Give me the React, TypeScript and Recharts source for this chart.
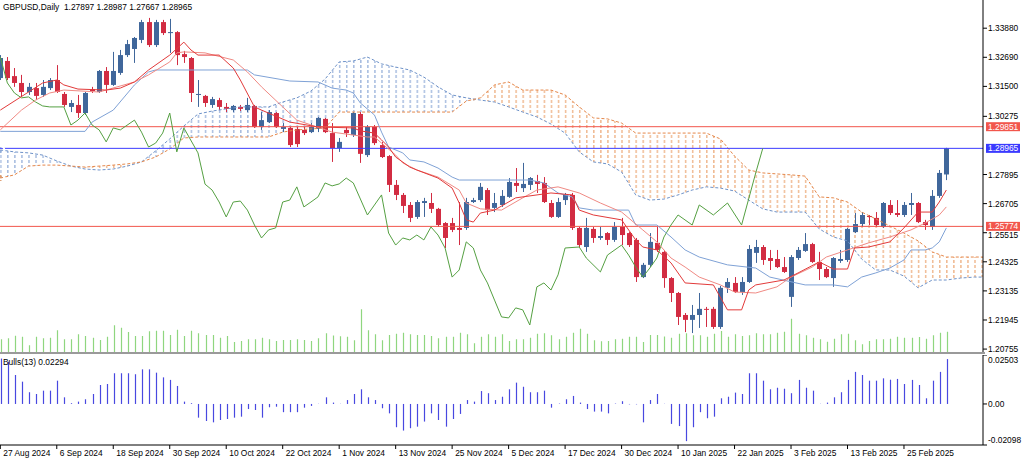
import React from 'react'
import { ComposedChart, Bar, Line, Area, XAxis, YAxis, ReferenceLine } from 'recharts'

// date labels, one every 8 bars starting at bar 0
const dateTicks = [
  '27 Aug 2024', '6 Sep 2024', '18 Sep 2024', '30 Sep 2024', '10 Oct 2024', '22 Oct 2024',
  '1 Nov 2024', '13 Nov 2024', '25 Nov 2024', '5 Dec 2024', '17 Dec 2024', '30 Dec 2024',
  '10 Jan 2025', '22 Jan 2025', '3 Feb 2025', '13 Feb 2025', '25 Feb 2025',
]

const opens = [
  1.3184, 1.3254, 1.3192, 1.3164, 1.3127, 1.3143, 1.3115, 1.3143, 1.3176, 1.3119,
  1.3066, 1.3074, 1.3041, 1.3139, 1.3127, 1.3213, 1.3156, 1.3205, 1.3278, 1.3303,
  1.3340, 1.3413, 1.3319, 1.3413, 1.3368, 1.3372, 1.3282, 1.3266, 1.3115, 1.3111,
  1.3074, 1.3094, 1.3066, 1.3053, 1.3066, 1.3053, 1.3070, 1.2984, 1.3004, 1.3041,
  1.2976, 1.2980, 1.2976, 1.2972, 1.2963, 1.2976, 1.3017, 1.2959, 1.2898, 1.2972,
  1.2951, 1.3037, 1.2869, 1.2984, 1.2910, 1.2865, 1.2747, 1.2706, 1.2665, 1.2616,
  1.2673, 1.2673, 1.2649, 1.2591, 1.2591, 1.2571, 1.2571, 1.2677, 1.2685, 1.2726,
  1.2653, 1.2665, 1.2698, 1.2755, 1.2734, 1.2747, 1.2763, 1.2755, 1.2673, 1.2616,
  1.2685, 1.2706, 1.2571, 1.2493, 1.2567, 1.2530, 1.2550, 1.2522, 1.2575, 1.2550,
  1.2522, 1.2370, 1.2420, 1.2510, 1.2473, 1.2366, 1.2305, 1.2215, 1.2195, 1.2215,
  1.2240, 1.2240, 1.2166, 1.2326, 1.2346, 1.2309, 1.2350, 1.2469, 1.2493, 1.2448,
  1.2444, 1.2411, 1.2289, 1.2448, 1.2477, 1.2505, 1.2432, 1.2403, 1.2366, 1.2436,
  1.2440, 1.2554, 1.2587, 1.2620, 1.2612, 1.2575, 1.2665, 1.2632, 1.2624, 1.2665,
  1.2673, 1.2595, 1.2575, 1.2702, 1.27897,
]
const highs = [
  1.3278, 1.3270, 1.3225, 1.3197, 1.3164, 1.3164, 1.3176, 1.3184, 1.3237, 1.3127,
  1.3094, 1.3115, 1.3127, 1.3148, 1.3217, 1.3229, 1.3291, 1.3299, 1.3340, 1.3352,
  1.3422, 1.3430, 1.3422, 1.3422, 1.3426, 1.3376, 1.3295, 1.3270, 1.3176, 1.3115,
  1.3107, 1.3103, 1.3082, 1.3074, 1.3074, 1.3103, 1.3074, 1.3045, 1.3053, 1.3045,
  1.3000, 1.2984, 1.2984, 1.2984, 1.3000, 1.3025, 1.3021, 1.3000, 1.2939, 1.2984,
  1.3045, 1.3045, 1.2992, 1.2992, 1.2923, 1.2869, 1.2767, 1.2714, 1.2677, 1.2685,
  1.2694, 1.2714, 1.2653, 1.2595, 1.2612, 1.2677, 1.2694, 1.2694, 1.2755, 1.2734,
  1.2714, 1.2726, 1.2775, 1.2816, 1.2837, 1.2779, 1.2788, 1.2779, 1.2685, 1.2694,
  1.2714, 1.2714, 1.2575, 1.2612, 1.2575, 1.2575, 1.2554, 1.2595, 1.2612, 1.2554,
  1.2530, 1.2428, 1.2550, 1.2575, 1.2481, 1.2370, 1.2309, 1.2223, 1.2256, 1.2305,
  1.2248, 1.2248, 1.2334, 1.2366, 1.2370, 1.2370, 1.2501, 1.2522, 1.2501, 1.2481,
  1.2481, 1.2452, 1.2460, 1.2493, 1.2550, 1.2510, 1.2473, 1.2411, 1.2452, 1.2481,
  1.2571, 1.2632, 1.2636, 1.2624, 1.2636, 1.2677, 1.2685, 1.2685, 1.2677, 1.2714,
  1.2677, 1.2604, 1.2726, 1.2808, 1.28987,
]
const lows = [
  1.3176, 1.3176, 1.3148, 1.3107, 1.3115, 1.3094, 1.3107, 1.3135, 1.3123, 1.3066,
  1.3045, 1.3021, 1.3033, 1.3123, 1.3123, 1.3123, 1.3152, 1.3197, 1.3270, 1.3246,
  1.3327, 1.3311, 1.3311, 1.3360, 1.3287, 1.3237, 1.3246, 1.3086, 1.3066, 1.3066,
  1.3062, 1.3053, 1.3045, 1.3045, 1.3049, 1.3045, 1.2980, 1.2972, 1.3000, 1.2980,
  1.2963, 1.2902, 1.2902, 1.2951, 1.2959, 1.2963, 1.2959, 1.2841, 1.2882, 1.2943,
  1.2943, 1.2837, 1.2861, 1.2910, 1.2857, 1.2718, 1.2685, 1.2632, 1.2595, 1.2608,
  1.2616, 1.2632, 1.2575, 1.2489, 1.2554, 1.2501, 1.2563, 1.2673, 1.2677, 1.2624,
  1.2636, 1.2657, 1.2694, 1.2718, 1.2718, 1.2726, 1.2714, 1.2673, 1.2612, 1.2612,
  1.2665, 1.2563, 1.2493, 1.2473, 1.2510, 1.2522, 1.2501, 1.2514, 1.2501, 1.2493,
  1.2350, 1.2366, 1.2411, 1.2473, 1.2326, 1.2268, 1.2174, 1.2145, 1.2141, 1.2162,
  1.2166, 1.2158, 1.2158, 1.2305, 1.2305, 1.2297, 1.2346, 1.2428, 1.2420, 1.2399,
  1.2407, 1.2387, 1.2248, 1.2440, 1.2473, 1.2428, 1.2358, 1.2366, 1.2330, 1.2428,
  1.2432, 1.2550, 1.2575, 1.2583, 1.2575, 1.2571, 1.2624, 1.2616, 1.2616, 1.2624,
  1.2591, 1.2563, 1.2563, 1.2694, 1.27667,
]
const closes = [
  1.3266, 1.3184, 1.3164, 1.3127, 1.3148, 1.3111, 1.3148, 1.3176, 1.3127, 1.3074,
  1.3082, 1.3041, 1.3123, 1.3131, 1.3213, 1.3156, 1.3213, 1.3278, 1.3323, 1.3348,
  1.3413, 1.3319, 1.3413, 1.3368, 1.3372, 1.3278, 1.3270, 1.3123, 1.3119, 1.3082,
  1.3098, 1.3066, 1.3058, 1.3070, 1.3058, 1.3074, 1.2984, 1.3012, 1.3045, 1.2984,
  1.2984, 1.2910, 1.2914, 1.2959, 1.2984, 1.3021, 1.2963, 1.2898, 1.2923, 1.2959,
  1.3041, 1.2874, 1.2984, 1.2918, 1.2861, 1.2747, 1.2706, 1.2661, 1.2612, 1.2677,
  1.2681, 1.2649, 1.2583, 1.2530, 1.2563, 1.2563, 1.2677, 1.2685, 1.2739, 1.2644,
  1.2673, 1.2702, 1.2759, 1.2743, 1.2751, 1.2775, 1.2751, 1.2677, 1.2616, 1.2677,
  1.2706, 1.2571, 1.2501, 1.2571, 1.2530, 1.2538, 1.2522, 1.2575, 1.2542, 1.2501,
  1.2370, 1.2420, 1.2514, 1.2481, 1.2366, 1.2305, 1.2207, 1.2195, 1.2215, 1.2240,
  1.2236, 1.2166, 1.2326, 1.2350, 1.2309, 1.2350, 1.2485, 1.2493, 1.2440, 1.2436,
  1.2411, 1.2391, 1.2452, 1.2481, 1.2505, 1.2432, 1.2403, 1.2370, 1.2448, 1.2444,
  1.2567, 1.2587, 1.2624, 1.2616, 1.2583, 1.2673, 1.2632, 1.2624, 1.2665, 1.2673,
  1.2595, 1.2583, 1.2702, 1.2796, 1.28965,
]

// tick volume, thousands
const volumes = [
  55, 59, 69, 65, 31, 65, 59, 61, 91, 55, 55, 75, 68, 61, 52, 65, 111, 101, 84, 68,
  68, 87, 89, 89, 72, 93, 68, 89, 79, 72, 72, 61, 68, 44, 48, 55, 55, 61, 55, 48,
  52, 52, 55, 52, 48, 59, 79, 70, 67, 65, 51, 175, 91, 75, 51, 72, 77, 81, 75, 72,
  72, 68, 59, 65, 65, 81, 75, 39, 65, 75, 65, 75, 48, 55, 55, 61, 77, 79, 71, 55,
  65, 81, 97, 77, 51, 47, 48, 55, 57, 65, 65, 44, 72, 72, 66, 61, 77, 79, 71, 71,
  65, 77, 88, 65, 75, 68, 71, 79, 75, 75, 81, 85, 137, 77, 71, 61, 55, 45, 57, 75,
  77, 51, 35, 48, 55, 55, 57, 65, 61, 61, 64, 57, 71, 81, 85,
]

// Bulls Power (13)
const bulls = [
  0.0232, 0.0216, 0.0148, 0.0114, 0.0060, 0.0051, 0.0068, 0.0068, 0.0119, 0.0034,
  0.0004, 0.0012, 0.0024, 0.0051, 0.0097, 0.0102, 0.0157, 0.0157, 0.0157, 0.0152,
  0.0177, 0.0177, 0.0160, 0.0136, 0.0123, 0.0092, 0.0012, 0.0004, -0.0070, -0.0087,
  -0.0094, -0.0082, -0.0077, -0.0070, -0.0065, -0.0026, -0.0031, -0.0070, -0.0017, -0.0014,
  -0.0042, -0.0042, -0.0042, -0.0019, -0.0010, 0.0001, 0.0034, 0.0007, 0.0001, 0.0020,
  0.0051, 0.0075, 0.0034, 0.0020, -0.0022, -0.0048, -0.0119, -0.0136, -0.0124, -0.0116,
  -0.0090, -0.0048, -0.0082, -0.0116, -0.0077, -0.0051, 0.0020, 0.0012, 0.0066, 0.0055,
  0.0020, 0.0037, 0.0075, 0.0109, 0.0088, 0.0060, 0.0060, 0.0068, -0.0019, 0.0002,
  0.0024, 0.0041, 0.0007, -0.0026, -0.0039, -0.0039, -0.0048, 0.0002, 0.0014, -0.0002,
  -0.0002, -0.0094, 0.0020, 0.0051, 0.0001, -0.0102, -0.0113, -0.0190, -0.0119, -0.0042,
  -0.0073, -0.0065, 0.0029, 0.0037, 0.0058, 0.0051, 0.0157, 0.0157, 0.0119, 0.0075,
  0.0083, 0.0078, 0.0055, 0.0123, 0.0083, 0.0068, 0.0001, 0.0007, 0.0034, 0.0060,
  0.0123, 0.0164, 0.0148, 0.0119, 0.0119, 0.0131, 0.0124, 0.0128, 0.0102, 0.0123,
  0.0097, 0.0029, 0.0119, 0.0164, 0.02294,
]

// Ichimoku lines, read as [bar, price] vertices
const tenkan = [
  [0, 1.3053], [6, 1.3164], [8, 1.3176], [9, 1.3156], [11, 1.3139], [15, 1.3135], [17, 1.3143],
  [19, 1.3168], [21, 1.3217], [24, 1.3278], [26, 1.3331], [27, 1.3299], [28, 1.3278], [31, 1.3278],
  [33, 1.3225], [34, 1.3176], [36, 1.3066], [37, 1.3053], [41, 1.3004], [45, 1.2984], [50, 1.2980],
  [51, 1.2968], [53, 1.2959], [54, 1.2931], [55, 1.2902], [56, 1.2861], [58, 1.2820], [59, 1.2808],
  [62, 1.2775], [64, 1.2734], [65, 1.2673], [66, 1.2604], [67, 1.2595], [68, 1.2632], [70, 1.2644],
  [73, 1.2694], [78, 1.2714], [81, 1.2706], [82, 1.2644], [84, 1.2624], [88, 1.2604], [90, 1.2522],
  [91, 1.2493], [93, 1.2481], [95, 1.2428], [97, 1.2346], [101, 1.2338], [103, 1.2236], [105, 1.2236],
  [106, 1.2317], [107, 1.2338], [111, 1.2358], [113, 1.2387], [116, 1.2432], [118, 1.2403],
  [120, 1.2403], [121, 1.2489], [123, 1.2493], [126, 1.2514], [128, 1.2571], [130, 1.2636],
  [132, 1.2636], [133, 1.2677], [134, 1.2726],
]
const movingAvg = [
  [0, 1.2972], [3, 1.3053], [5, 1.3094], [7, 1.3123], [9, 1.3135], [14, 1.3127], [19, 1.3168],
  [21, 1.3197], [24, 1.3250], [25, 1.3287], [26, 1.3291], [29, 1.3287], [33, 1.3258], [35, 1.3209],
  [37, 1.3148], [40, 1.3066], [42, 1.3012], [47, 1.2963], [52, 1.2943], [53, 1.2943], [54, 1.2918],
  [56, 1.2869], [57, 1.2837], [59, 1.2808], [62, 1.2779], [65, 1.2726], [66, 1.2673], [68, 1.2649],
  [71, 1.2644], [74, 1.2694], [76, 1.2726], [79, 1.2739], [82, 1.2714], [85, 1.2673], [88, 1.2636],
  [91, 1.2563], [93, 1.2514], [95, 1.2448], [97, 1.2411], [99, 1.2370], [102, 1.2338], [104, 1.2309],
  [107, 1.2305], [110, 1.2330], [112, 1.2370], [115, 1.2411], [117, 1.2452], [120, 1.2481],
  [123, 1.2510], [126, 1.2534], [129, 1.2563], [131, 1.2591], [133, 1.2624], [134, 1.2657],
]
const kijun = [
  [0, 1.2966], [12, 1.2966], [13, 1.3004], [16, 1.3053], [19, 1.3156], [21, 1.3209], [22, 1.3217],
  [35, 1.3217], [36, 1.3197], [41, 1.3172], [45, 1.3168], [47, 1.3143], [49, 1.3135], [50, 1.3123],
  [51, 1.3082], [53, 1.3033], [54, 1.2963], [55, 1.2902], [57, 1.2878], [58, 1.2849], [60, 1.2841],
  [62, 1.2816], [64, 1.2779], [65, 1.2767], [75, 1.2767], [77, 1.2755], [79, 1.2714], [81, 1.2698],
  [82, 1.2653], [84, 1.2644], [89, 1.2644], [90, 1.2583], [93, 1.2583], [95, 1.2534], [97, 1.2481],
  [99, 1.2452], [103, 1.2420], [107, 1.2407], [109, 1.2370], [114, 1.2338], [118, 1.2338],
  [120, 1.2330], [122, 1.2370], [124, 1.2387], [126, 1.2407], [128, 1.2440], [129, 1.2481],
  [131, 1.2481], [132, 1.2489], [133, 1.2514], [134, 1.2571],
]
const chikou = [
  [0, 1.3270], [1, 1.3164], [2, 1.3123], [3, 1.3103], [4, 1.3107], [5, 1.3086], [6, 1.3070],
  [7, 1.3066], [9, 1.3066], [10, 1.2992], [11, 1.3012], [12, 1.3041], [13, 1.2992], [14, 1.2972],
  [15, 1.2923], [16, 1.2980], [17, 1.2972], [19, 1.3012], [20, 1.2963], [21, 1.2902], [22, 1.2918],
  [23, 1.2959], [24, 1.3041], [25, 1.2882], [26, 1.2980], [28, 1.2878], [29, 1.2750], [30, 1.2726],
  [31, 1.2677], [32, 1.2616], [33, 1.2677], [34, 1.2681], [35, 1.2644], [36, 1.2583], [37, 1.2530],
  [38, 1.2563], [39, 1.2571], [40, 1.2677], [41, 1.2685], [42, 1.2739], [43, 1.2657], [44, 1.2677],
  [45, 1.2698], [46, 1.2755], [47, 1.2743], [48, 1.2751], [49, 1.2775], [50, 1.2755], [52, 1.2624],
  [54, 1.2706], [55, 1.2550], [56, 1.2501], [57, 1.2530], [58, 1.2522], [59, 1.2542], [60, 1.2522],
  [61, 1.2575], [62, 1.2542], [63, 1.2489], [64, 1.2370], [65, 1.2399], [66, 1.2514], [67, 1.2489],
  [68, 1.2399], [69, 1.2346], [70, 1.2276], [71, 1.2207], [72, 1.2203], [73, 1.2244], [74, 1.2236],
  [75, 1.2174], [76, 1.2330], [77, 1.2346], [78, 1.2317], [79, 1.2379], [80, 1.2489], [82, 1.2493],
  [83, 1.2448], [85, 1.2391], [86, 1.2460], [88, 1.2501], [89, 1.2460], [90, 1.2411], [91, 1.2370],
  [92, 1.2407], [93, 1.2448], [94, 1.2534], [95, 1.2583], [96, 1.2624], [98, 1.2583], [99, 1.2665],
  [101, 1.2624], [103, 1.2673], [105, 1.2583], [107, 1.2796], [108, 1.28965],
]
// Senkou spans, read every second bar from bar 0 to bar 140
const spanA = [
  1.2890, 1.2882, 1.2878, 1.2869, 1.2845, 1.2824, 1.2812, 1.2808, 1.2812, 1.2824,
  1.2841, 1.2886, 1.2935, 1.2988, 1.3037, 1.3049, 1.3058, 1.3066, 1.3066, 1.3066,
  1.3086, 1.3103, 1.3131, 1.3180, 1.3250, 1.3254, 1.3270, 1.3242, 1.3229, 1.3217,
  1.3188, 1.3148, 1.3115, 1.3103, 1.3094, 1.3086, 1.3066, 1.3045, 1.3025, 1.2996,
  1.2959, 1.2882, 1.2841, 1.2833, 1.2800, 1.2706, 1.2685, 1.2689, 1.2706, 1.2726,
  1.2739, 1.2734, 1.2722, 1.2685, 1.2649, 1.2636, 1.2636, 1.2636, 1.2567, 1.2534,
  1.2518, 1.2444, 1.2399, 1.2399, 1.2374, 1.2326, 1.2358, 1.2358, 1.2366, 1.2370,
  1.2370,
]
const spanB = [
  1.2775, 1.2788, 1.2824, 1.2828, 1.2828, 1.2824, 1.2820, 1.2824, 1.2828, 1.2833,
  1.2841, 1.2861, 1.2894, 1.2939, 1.2943, 1.2943, 1.2943, 1.2943, 1.2943, 1.2943,
  1.2963, 1.2972, 1.2976, 1.2980, 1.3045, 1.3045, 1.3045, 1.3045, 1.3045, 1.3045,
  1.3045, 1.3045, 1.3045, 1.3090, 1.3103, 1.3156, 1.3168, 1.3135, 1.3135, 1.3135,
  1.3115, 1.3066, 1.3021, 1.3017, 1.3000, 1.2959, 1.2959, 1.2959, 1.2959, 1.2959,
  1.2959, 1.2935, 1.2865, 1.2808, 1.2796, 1.2792, 1.2788, 1.2783, 1.2698, 1.2694,
  1.2677, 1.2636, 1.2608, 1.2579, 1.2550, 1.2518, 1.2473, 1.2452, 1.2452, 1.2452,
  1.2452,
]

const priceTicks = [1.3388, 1.3269, 1.315, 1.30275, 1.27895, 1.26705, 1.25515, 1.24325, 1.23135, 1.21945, 1.20755]
const redLevels = [1.29851, 1.25774]
const blueLevel = 1.28965
const bullsTicks = [0.02503, 0, -0.02098]
const bullsNow = 0.02294

// ---- layout ----
const FONT = '"Liberation Sans", Arial, sans-serif'
const FS = 8.4
const BAR_STEP = 7.06
const BAR_OFFSET = 0.3
const PLOT_W = 983
const X_DOMAIN = [-BAR_OFFSET / BAR_STEP, (PLOT_W - BAR_OFFSET) / BAR_STEP]
const PRICE_DOMAIN = [1.20595, 1.35033]
const UP = '#40679b'
const DOWN = '#d22c42'
const RED = '#f2564c'
const BLUE = '#3a3aff'

const rows = Array.from({ length: 141 }, (_, i) => {
  const row: any = { i }
  if (i < closes.length) {
    row.o = opens[i]; row.h = highs[i]; row.l = lows[i]; row.c = closes[i]
    row.vol = volumes[i]; row.bulls = bulls[i]
  }
  if (i % 2 === 0) {
    const a = spanA[i / 2], b = spanB[i / 2]
    row.sa = a; row.sb = b
    row.cloudBlue = a >= b ? [b, a] : [a, a]
    row.cloudOrange = b > a ? [a, b] : [b, b]
  }
  return row
})
for (const [i, v] of tenkan) rows[i].tk = v
for (const [i, v] of movingAvg) rows[i].ma = v
for (const [i, v] of kijun) rows[i].kj = v
for (const [i, v] of chikou) rows[i].ck = v

const allLevels = [...redLevels, blueLevel]

const Candle = (props: any) => {
  const { x, y, width, height, payload } = props
  if (!payload || payload.c == null) return null
  const { o, h, l, c } = payload
  const span = h - l
  const toY = (v: number) => (span > 0 ? y + ((h - v) / span) * height : y)
  const color = c >= o ? UP : DOWN
  const cx = Math.round(x + width / 2) + 0.5
  const top = toY(Math.max(o, c))
  const bot = toY(Math.min(o, c))
  return (
    <g>
      <line x1={cx} x2={cx} y1={y} y2={y + height} stroke={color} strokeWidth={1} />
      <rect x={cx - 2.5} y={top} width={5} height={Math.max(bot - top, 1)} fill={color} />
    </g>
  )
}

const Stick = (color: string) => (props: any) => {
  const { x, y, width, height } = props
  if (height == null || isNaN(height)) return null
  const cx = Math.round(x + width / 2) + 0.5
  return <line x1={cx} x2={cx} y1={y} y2={y + height} stroke={color} strokeWidth={1.2} />
}

const PriceTick = (props: any) => {
  const { x, y, payload } = props
  const v = payload.value
  // a label sitting just under a price box is nudged down so it stays readable
  const underBox = allLevels.some((l) => l > v && l - v < 0.004)
  return (
    <text x={x} y={y} dy={underBox ? 5.5 : 3} fontSize={FS} fontFamily={FONT} fill='#000' textAnchor='start'>
      {v.toFixed(5)}
    </text>
  )
}

const BullsTick = (props: any) => {
  const { x, y, payload } = props
  const v = payload.value
  const dy = v > 0 ? 8 : v < 0 ? -2 : 3
  return (
    <text x={x} y={y} dy={dy} fontSize={FS} fontFamily={FONT} fill='#000' textAnchor='start'>
      {v === 0 ? '0.00' : v.toFixed(5)}
    </text>
  )
}

const DateTick = (props: any) => {
  const { x, y, payload } = props
  return (
    <text x={x + 3} y={y} dy={7} fontSize={FS} fontFamily={FONT} fill='#000' textAnchor='start'>
      {dateTicks[Math.round(payload.value / 8)]}
    </text>
  )
}

const priceBox = (text: string, color: string) => (props: any) => {
  const vb = props.viewBox
  if (!vb) return null
  const bx = vb.x + vb.width + 3
  return (
    <g>
      <rect x={bx} y={vb.y - 4.5} width={34} height={9} fill={color} />
      <text x={bx + 2} y={vb.y + 3} fontSize={FS} fontFamily={FONT} fill='#fff'>{text}</text>
    </g>
  )
}

export default function App() {
  return (
    <div style={{ position: 'relative', width: 1024, height: 463, background: '#fff', overflow: 'hidden' }}>
      <style>{'body{margin:0}'}</style>

      {/* volume layer */}
      <div style={{ position: 'absolute', left: 0, top: 0 }}>
        <ComposedChart width={1024} height={353} data={rows} margin={{ top: 0, right: 0, bottom: 0, left: 0 }}>
          <XAxis dataKey='i' type='number' domain={X_DOMAIN} allowDataOverflow hide />
          <YAxis orientation='right' width={41} domain={[0, 1412]} allowDataOverflow tick={false} axisLine={false} tickLine={false} />
          <Bar dataKey='vol' barSize={2} shape={Stick('#8fd67f')} isAnimationActive={false} />
        </ComposedChart>
      </div>

      {/* price layer */}
      <div style={{ position: 'absolute', left: 0, top: 0 }}>
        <ComposedChart width={1024} height={353} data={rows} margin={{ top: 0, right: 0, bottom: 0, left: 0 }}>
          <defs>
            <pattern id='hatchBlue' width={BAR_STEP} height={5} patternUnits='userSpaceOnUse'>
              <line x1={BAR_OFFSET + 0.5} x2={BAR_OFFSET + 0.5} y1={0} y2={3} stroke='#7b9bd0' strokeWidth={1} />
            </pattern>
            <pattern id='hatchOrange' width={BAR_STEP} height={5} patternUnits='userSpaceOnUse'>
              <line x1={BAR_OFFSET + 0.5} x2={BAR_OFFSET + 0.5} y1={0} y2={3} stroke='#e8985c' strokeWidth={1} />
            </pattern>
          </defs>
          <XAxis dataKey='i' type='number' domain={X_DOMAIN} allowDataOverflow hide />
          <YAxis
            orientation='right'
            width={41}
            domain={PRICE_DOMAIN}
            allowDataOverflow
            ticks={priceTicks}
            interval={0}
            tick={PriceTick}
            tickSize={4}
            tickMargin={1}
            axisLine={{ stroke: '#000' }}
            tickLine={{ stroke: '#000' }}
          />
          <Area dataKey={(r: any) => r.cloudBlue} stroke='none' fill='url(#hatchBlue)' fillOpacity={1} connectNulls isAnimationActive={false} />
          <Area dataKey={(r: any) => r.cloudOrange} stroke='none' fill='url(#hatchOrange)' fillOpacity={1} connectNulls isAnimationActive={false} />
          <Line dataKey='sa' stroke='#6f93c9' strokeWidth={1} strokeDasharray='3 2' dot={false} activeDot={false} connectNulls isAnimationActive={false} />
          <Line dataKey='sb' stroke='#e5874a' strokeWidth={1} strokeDasharray='3 2' dot={false} activeDot={false} connectNulls isAnimationActive={false} />
          {redLevels.map((v) => (
            <ReferenceLine key={v} y={v} stroke={RED} strokeWidth={1} label={priceBox(v.toFixed(5), RED)} />
          ))}
          <ReferenceLine y={blueLevel} stroke={BLUE} strokeWidth={1} label={priceBox(blueLevel.toFixed(5), BLUE)} />
          <Line dataKey='ck' stroke='#55a042' strokeWidth={1} dot={false} activeDot={false} connectNulls isAnimationActive={false} />
          <Line dataKey='kj' stroke='#7fa2d6' strokeWidth={1} dot={false} activeDot={false} connectNulls isAnimationActive={false} />
          <Line dataKey='ma' stroke='#f08a84' strokeWidth={1} dot={false} activeDot={false} connectNulls isAnimationActive={false} />
          <Line dataKey='tk' stroke='#e23a3a' strokeWidth={1} dot={false} activeDot={false} connectNulls isAnimationActive={false} />
          <Bar dataKey={(r: any) => (r.c == null ? null : [r.l, r.h])} barSize={5} shape={Candle} isAnimationActive={false} />
        </ComposedChart>
      </div>

      <div style={{ position: 'absolute', left: 3, top: 1, font: `${FS}px ${FONT}`, lineHeight: '12px', color: '#000', whiteSpace: 'pre' }}>
        {'GBPUSD,Daily  ' + [opens[134], highs[134], lows[134], closes[134]].map((v) => v.toFixed(5)).join(' ')}
      </div>

      <div style={{ position: 'absolute', left: 0, top: 352, width: 985, height: 2, background: '#9a9a9a' }} />

      {/* Bulls Power panel */}
      <div style={{ position: 'absolute', left: 0, top: 355 }}>
        <ComposedChart width={1024} height={108} data={rows} margin={{ top: 0, right: 0, bottom: 0, left: 0 }}>
          <XAxis
            dataKey='i'
            type='number'
            domain={X_DOMAIN}
            allowDataOverflow
            ticks={dateTicks.map((_, k) => k * 8)}
            interval={0}
            height={18}
            tick={DateTick}
            tickSize={4}
            tickMargin={0}
            axisLine={{ stroke: '#000' }}
            tickLine={{ stroke: '#000' }}
          />
          <YAxis
            orientation='right'
            width={41}
            domain={[bullsTicks[2], bullsTicks[0]]}
            allowDataOverflow
            ticks={bullsTicks}
            interval={0}
            tick={BullsTick}
            tickSize={4}
            tickMargin={1}
            axisLine={{ stroke: '#000' }}
            tickLine={{ stroke: '#000' }}
          />
          <Bar dataKey='bulls' barSize={2} shape={Stick('#4848e0')} isAnimationActive={false} />
        </ComposedChart>
      </div>

      <div style={{ position: 'absolute', left: 3, top: 356, font: `${FS}px ${FONT}`, lineHeight: '12px', color: '#000' }}>
        {'Bulls(13) ' + bullsNow.toFixed(5)}
      </div>
    </div>
  )
}
